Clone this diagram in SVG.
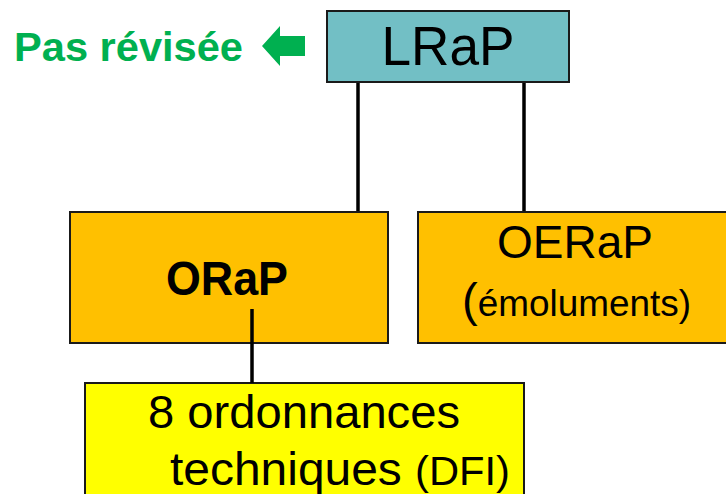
<svg xmlns="http://www.w3.org/2000/svg" width="726" height="494" viewBox="0 0 726 494">
<style>
.box{stroke:#1a1a1a;stroke-width:2}
.t{font-family:"Liberation Sans",Arial,sans-serif;fill:#000}
.conn{stroke:#000;stroke-width:3.5;fill:none}
</style>
<rect width="726" height="494" fill="#fff"/>
<g id="label-pas-revisee">
<text class="t" x="14" y="61" font-size="41" font-weight="bold" style="fill:#00B050" textLength="229" lengthAdjust="spacingAndGlyphs">Pas révisée</text>
<polygon points="262,46 280,26 280,36 305,36 305,56 280,56 280,66" fill="#00B050"/>
</g>
<g id="LRaP">
<rect class="box" x="327" y="11" width="242" height="71" fill="#72BFC5"/>
<text class="t" x="448" y="65" font-size="56" text-anchor="middle" textLength="133" lengthAdjust="spacingAndGlyphs">LRaP</text>
</g>
<g id="ORaP">
<rect class="box" x="70" y="212" width="318" height="131" fill="#FFC000"/>
<text class="t" x="227" y="295" font-size="48" font-weight="bold" text-anchor="middle" textLength="122" lengthAdjust="spacingAndGlyphs">ORaP</text>
</g>
<g id="OERaP">
<rect class="box" x="418" y="212" width="312" height="131" fill="#FFC000"/>
<text class="t" x="575" y="258" font-size="46" text-anchor="middle" textLength="156" lengthAdjust="spacingAndGlyphs">OERaP</text>
<text class="t" x="462" y="316" font-size="36" textLength="229" lengthAdjust="spacingAndGlyphs"><tspan font-size="46">(</tspan>émoluments)</text>
</g>
<g id="ordonnances">
<rect class="box" x="85" y="383" width="439" height="115" fill="#FFFF00"/>
<text class="t" x="148" y="428" font-size="46" textLength="312" lengthAdjust="spacingAndGlyphs">8 ordonnances</text>
<text class="t" x="170" y="485" font-size="46" textLength="340" lengthAdjust="spacingAndGlyphs">techniques <tspan font-size="40">(DFI)</tspan></text>
</g>
<g id="connectors">
<line class="conn" x1="358" y1="83" x2="358" y2="211"/>
<line class="conn" x1="524" y1="83" x2="524" y2="211"/>
<line class="conn" x1="252" y1="309" x2="252" y2="383"/>
</g>
</svg>
